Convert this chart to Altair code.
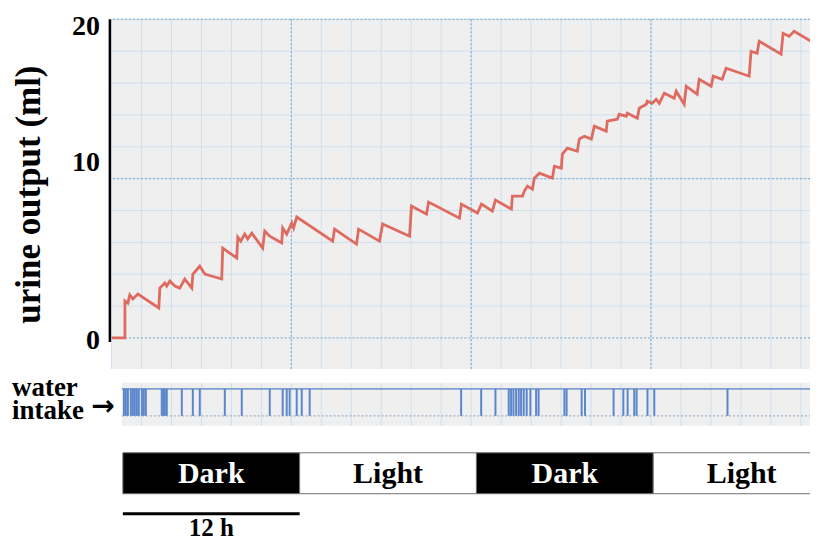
import altair as alt
import pandas as pd

# ---------------- data ----------------
# cumulative urine output trace (hours from lights-off, ml)
trace_hours = [-0.75, 0.14, 0.14, 0.34, 0.47, 0.68, 0.88, 1.02, 2.44, 2.51, 2.85, 2.98, 3.19, 3.53,
               3.86, 4.20, 4.68, 4.75, 4.88, 5.22, 5.56, 6.71, 6.78, 7.25, 7.73, 7.80, 8.00, 8.27,
               8.47, 8.75, 9.49, 9.63, 9.97, 10.78, 10.85, 11.12, 11.46, 11.59, 11.80, 14.24, 14.37,
               15.86, 16.00, 17.42, 17.63, 19.46, 19.59, 20.61, 20.75, 22.85, 22.98, 24.07, 24.34,
               25.08, 25.29, 26.37, 26.44, 27.12, 27.25, 27.46, 27.80, 27.93, 28.27, 29.15, 29.29,
               29.76, 29.83, 30.17, 30.85, 30.98, 31.32, 31.80, 32.00, 32.81, 32.88, 33.56, 33.69,
               34.17, 34.24, 34.92, 35.05, 35.53, 35.59, 35.93, 36.20, 36.41, 36.75, 37.42, 37.56,
               38.10, 38.24, 38.98, 39.12, 39.93, 40.07, 40.68, 40.95, 42.51, 42.64, 43.05, 43.19,
               44.68, 44.81, 45.22, 45.56, 47.05, 47.12]
trace_ml = [0, 0, 2.32, 2.19, 2.70, 2.45, 2.63, 2.76, 1.88, 3.13, 3.45, 3.26, 3.57, 3.26,
            3.13, 3.70, 3.13, 4.01, 4.14, 4.51, 4.01, 3.70, 5.64, 5.33, 5.02, 6.33, 6.08, 6.52,
            6.21, 6.58, 5.64, 6.71, 6.39, 5.96, 6.90, 6.52, 7.21, 6.90, 7.59, 6.08, 6.83,
            5.89, 6.83, 6.08, 7.15, 6.39, 8.28, 7.77, 8.53, 7.52, 8.40, 7.84, 8.40,
            7.96, 8.65, 8.09, 8.90, 8.90, 9.22, 9.53, 9.34, 10.03, 10.34, 10.03, 10.78,
            10.66, 11.54, 11.91, 11.72, 12.48, 12.66, 12.48, 13.29, 12.98, 13.61, 13.73, 14.04,
            13.92, 14.11, 13.79, 14.42, 14.67, 14.86, 14.73, 14.98, 14.73, 15.36, 15.05, 15.49,
            14.67, 15.80, 15.30, 16.24, 15.80, 16.43, 16.24, 16.93, 16.43, 17.99, 17.87, 18.62,
            17.81, 19.12, 18.93, 19.25, 18.43, 19.25]

# water intake events (hours)
intake_hours = [0.07, 0.20, 0.34, 0.54, 0.68, 0.81, 0.95, 1.08, 1.29, 1.42, 1.56, 2.64, 2.75,
                2.85, 2.98, 4.00, 4.75, 5.22, 6.92, 8.07, 9.97, 10.85, 11.12, 11.32, 11.80,
                12.14, 12.68, 22.96, 24.32, 25.29, 26.19, 26.35, 26.51, 26.69, 26.87, 27.03,
                27.21, 27.41, 27.66, 28.05, 28.22, 29.97, 30.12, 31.14, 31.37, 33.31, 33.97,
                34.26, 34.71, 34.87, 35.61, 36.07, 41.04]

# light/dark phases
phase_names = ["Dark", "Light", "Dark", "Light"]
phase_start = [0, 12, 24, 36]
phase_end = [12, 24, 36, 48]

# scale bar
scale_label = ["12 h"]
scale_start = [0]
scale_end = [12]

# y tick labels
y_ticks = [0, 10, 20]
y_tick_labels = ["0", "10", "20"]

# ---------------- styling ----------------
FONT = "Liberation Serif"
BG = "#efefef"
MINOR = "#cfe0ef"
MAJOR = "#86b5d6"
RED = "#df6a60"
BLUE = "#5b86cb"

X0, X1 = -0.814, 46.64
W = 700
xs = alt.Scale(domain=[X0, X1], nice=False, zero=False)
ys = alt.Scale(domain=[-1.94, 20], nice=False, zero=False)

grid_x = [round(-0.766 + 2.034 * k, 3) for k in range(24)]
grid_y = list(range(2, 21, 2))
major_x = grid_x[6::6]

trace = pd.DataFrame({"t": trace_hours, "ml": trace_ml, "i": list(range(len(trace_hours)))})
intake = pd.DataFrame({"t": intake_hours})
phases = pd.DataFrame({"name": phase_names, "s": phase_start, "e": phase_end})
phases["mid"] = (phases["s"] + phases["e"]) / 2
scalebar = pd.DataFrame({"label": scale_label, "s": scale_start, "e": scale_end})
scalebar["mid"] = (scalebar["s"] + scalebar["e"]) / 2
yt = pd.DataFrame({"v": y_ticks, "lab": y_tick_labels})

# ---------------- main panel ----------------
minor_v = alt.Chart(pd.DataFrame({"t": grid_x})).mark_rule(color=MINOR, strokeWidth=1).encode(
    x=alt.X("t:Q", scale=xs, axis=None))
minor_h = alt.Chart(pd.DataFrame({"v": grid_y})).mark_rule(color=MINOR, strokeWidth=1).encode(
    y=alt.Y("v:Q", scale=ys, axis=alt.Axis(
        title="urine output (ml)", labels=False, ticks=False, domain=False, grid=False,
        titleFont=FONT, titleFontSize=35, titleFontWeight="bold", titleColor="black",
        titlePadding=64)))
major_v = alt.Chart(pd.DataFrame({"t": major_x})).mark_rule(
    color=MAJOR, strokeWidth=1.3, strokeDash=[2, 2]).encode(x=alt.X("t:Q", scale=xs))
major_h = alt.Chart(yt).mark_rule(
    color=MAJOR, strokeWidth=1.3, strokeDash=[2, 2]).encode(y=alt.Y("v:Q", scale=ys))
yline = alt.Chart(pd.DataFrame({"a": [20], "b": [-0.25]})).mark_rule(
    color="black", strokeWidth=2.5).encode(x=alt.value(-1), y=alt.Y("a:Q", scale=ys), y2="b:Q")

def ylab(v, dy):
    return alt.Chart(yt[yt["v"] == v]).mark_text(
        font=FONT, fontSize=28, fontWeight="bold", color="black", align="right",
        baseline="middle", dy=dy).encode(x=alt.value(-11), y=alt.Y("v:Q", scale=ys), text="lab:N")

line = alt.Chart(trace).mark_line(color=RED, strokeWidth=2.8, clip=True).encode(
    x=alt.X("t:Q", scale=xs), y=alt.Y("ml:Q", scale=ys), order="i:Q")

main = alt.layer(minor_v, minor_h, major_v, major_h, yline, ylab(20, 8), ylab(10, -16),
                 ylab(0, 3), line).properties(
    width=W, height=350, view=alt.ViewBackground(fill=BG, stroke=None))

# ---------------- water intake strip ----------------
SH = 43
strip_box = pd.DataFrame({"a": [-0.07], "b": [X1]})
s_bg = alt.Chart(strip_box).mark_rect(color=BG).encode(
    x=alt.X("a:Q", scale=xs, axis=None), x2="b:Q", y=alt.value(0), y2=alt.value(SH))
s_grid = alt.Chart(pd.DataFrame({"t": grid_x[1:]})).mark_rule(color=MINOR, strokeWidth=1).encode(
    x=alt.X("t:Q", scale=xs), y=alt.value(0), y2=alt.value(SH))
s_top = alt.Chart(strip_box).mark_rule(color="#7f9fd2", strokeWidth=1.6).encode(
    x=alt.X("a:Q", scale=xs), x2="b:Q", y=alt.value(6))
s_bot = alt.Chart(strip_box).mark_rule(color="#9fb4cc", strokeWidth=1.2, strokeDash=[2, 2]).encode(
    x=alt.X("a:Q", scale=xs), x2="b:Q", y=alt.value(33))
s_ticks = alt.Chart(intake).mark_rule(color=BLUE, strokeWidth=2).encode(
    x=alt.X("t:Q", scale=xs), y=alt.value(6), y2=alt.value(33))
lab_df = pd.DataFrame({"w": ["water\nintake"], "arr": ["\u2192"]})
t_water = alt.Chart(lab_df).mark_text(font=FONT, fontSize=27, fontWeight="bold", align="left",
                                      baseline="alphabetic", color="black", lineBreak="\n",
                                      lineHeight=23).encode(
    x=alt.value(-99), y=alt.value(13), text="w:N")
t_arrow = alt.Chart(lab_df).mark_text(font="DejaVu Sans", fontSize=28, fontWeight="bold",
                                      align="center", baseline="middle", color="black").encode(
    x=alt.value(-8), y=alt.value(24), text="arr:N")

strip = alt.layer(s_bg, s_grid, s_top, s_bot, s_ticks, t_water, t_arrow).properties(
    width=W, height=SH)

# ---------------- light/dark bars and scale bar ----------------
OFF = 22
bars = alt.Chart(phases).mark_rect(stroke="#6f6f6f", strokeWidth=1, clip=True).encode(
    x=alt.X("s:Q", scale=xs, axis=None), x2="e:Q", y=alt.value(OFF), y2=alt.value(OFF + 41),
    color=alt.condition("datum.name == 'Dark'", alt.value("black"), alt.value("white")))
bar_text = alt.Chart(phases).mark_text(font=FONT, fontSize=30, fontWeight="bold",
                                       baseline="middle").encode(
    x=alt.X("mid:Q", scale=xs), y=alt.value(OFF + 21), text="name:N",
    color=alt.condition("datum.name == 'Dark'", alt.value("white"), alt.value("black")))
sb_line = alt.Chart(scalebar).mark_rule(color="black", strokeWidth=3).encode(
    x=alt.X("s:Q", scale=xs), x2="e:Q", y=alt.value(OFF + 61))
sb_text = alt.Chart(scalebar).mark_text(font=FONT, fontSize=25, fontWeight="bold",
                                        baseline="alphabetic", color="black").encode(
    x=alt.X("mid:Q", scale=xs), y=alt.value(OFF + 83), text="label:N")

lower = alt.layer(bars, bar_text, sb_line, sb_text).properties(width=W, height=OFF + 86)

chart = alt.vconcat(main, strip, lower, spacing=4).properties(
    padding={"left": 4, "top": 5, "right": 0, "bottom": 0}
).configure_view(stroke=None)

chart.save("out.html", embed_options={"renderer": "svg", "actions": False})
